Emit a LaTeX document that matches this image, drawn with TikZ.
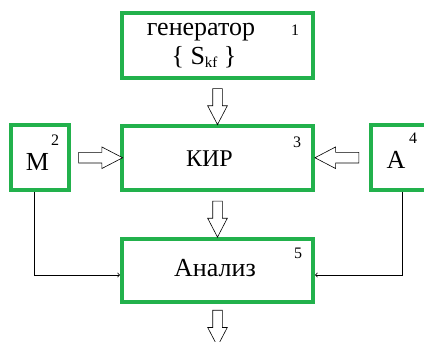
\documentclass[tikz,border=0pt]{standalone}
\usepackage{fontspec}
\setmainfont{Liberation Serif}
\newfontfamily\timesfont{Liberation Serif}
\usepackage{xcolor}
\usetikzlibrary{shapes.arrows, calc}

\definecolor{boxgreen}{RGB}{34,177,76}

\tikzset{
    blok/.style={draw=boxgreen, line width=4pt, inner sep=0pt},
    nomer/.style={inner sep=0pt, font=\timesfont\fontsize{16}{18}\selectfont},
    tekst/.style={inner sep=0pt, font=\timesfont\fontsize{26}{30}\selectfont},
    hollow/.style={single arrow, draw=black, fill=white, line width=0.6pt,
        inner sep=4.5pt, single arrow head extend=5pt, single arrow tip angle=55,
        minimum width=0pt},
}

\begin{document}
\begin{tikzpicture}[x=1pt, y=-1pt]
            \useasboundingbox (0, 0) rectangle (424, 342);

            % blocks
            \node[blok, minimum width=191pt, minimum height=65pt] (gen) at (217.5, 45.5) {};
            \node[blok, minimum width=191pt, minimum height=64pt] (kir) at (217.5, 158) {};
            \node[blok, minimum width=191pt, minimum height=63pt] (analiz) at (217.5, 270.5) {};
            \node[blok, minimum width=58pt, minimum height=65pt] (m) at (40, 157.5) {};
            \node[blok, minimum width=58pt, minimum height=65pt] (a) at (400, 157.5) {};

            \node[tekst, anchor=base] (gentxt) at (201, 36) {генератор};
            \node[tekst, anchor=base] (sktxt) at (204, 65) {\{ S\raisebox{-3pt}{\fontsize{15}{16}\selectfont kf} \}};
            \node[tekst, anchor=base, font=\timesfont\fontsize{24}{28}\selectfont] (kirtxt) at (209.5, 167) {КИР};
            \node[tekst, anchor=base] (analiztxt) at (215, 277) {Анализ};
            \node[tekst, anchor=base] (mtxt) at (37.5, 171) {М};
            \node[tekst, anchor=base] (atxt) at (396, 169) {А};

            \foreach \n/\x/\y in {1/295/30, 2/55/140, 3/297/142, 4/413/138, 5/298/253} {
                \node[nomer] (n\n) at (\x, \y) {\n};
            };

            % hollow arrows
            \node[hollow, minimum height=36pt, rotate=-90] (s1) at ($(gen.south)!0.5!(kir.north)$) {};
            \node[hollow, minimum height=36pt, rotate=-90] (s2) at ($(kir.south)!0.5!(analiz.north)$) {};
            \node[hollow, minimum height=36pt, rotate=-90, anchor=tail] (s3) at ([yshift=-6pt]analiz.south) {};
            \node[hollow, minimum height=44pt, inner sep=5pt, single arrow head extend=5.5pt] (s4) at ($(m.east)!0.5!(kir.west)$) {};
            \node[hollow, minimum height=44pt, inner sep=5pt, single arrow head extend=5.5pt, rotate=180] (s5) at ($(a.west)!0.5!(kir.east)$) {};

            % thin lines
            \draw[->, line width=0.8pt] ([xshift=-6pt]m.south) |- ([yshift=-4.5pt]analiz.west);
            \draw[->, line width=0.8pt] ([xshift=2pt]a.south) |- ([yshift=-4.5pt]analiz.east);
        \end{tikzpicture}
\end{document}
